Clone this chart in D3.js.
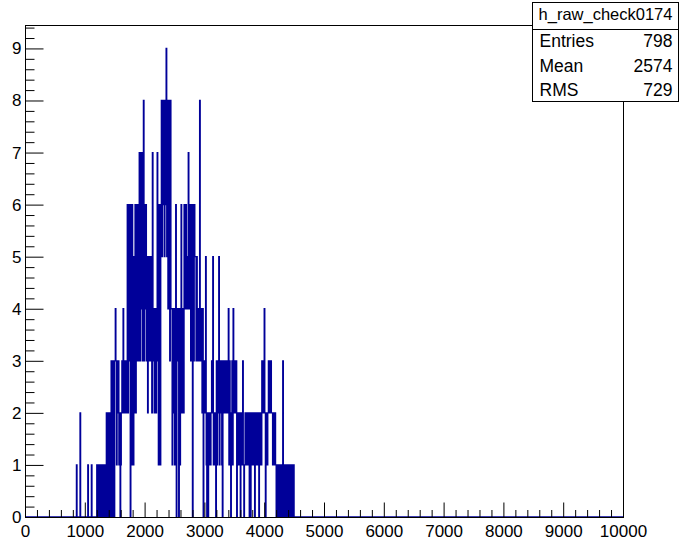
<!DOCTYPE html>
<html>
<head>
<meta charset="utf-8">
<script src="https://cdn.jsdelivr.net/npm/d3@7"></script>
<style>
  html, body { margin: 0; padding: 0; background: #ffffff; }
  svg { display: block; }
</style>
</head>
<body>
<svg id="chart" width="681" height="541"></svg>
<script>
// Histogram definition: 10-unit bins, first listed bin starts at 800
const histName = "h_raw_check0174";
const binLow = 800;
const binWidth = 10;
const counts = [
  0,0,0,0,0,0,1,0,0,0,
  0,0,2,0,0,0,0,0,0,0,
  0,0,0,0,0,1,0,0,0,0,
  0,1,0,0,0,0,0,0,0,0,
  1,0,1,1,0,1,0,1,1,0,
  1,0,1,1,0,1,2,0,1,2,
  0,2,1,0,3,1,0,3,2,0,
  3,4,3,1,3,2,3,1,2,0,
  1,2,3,2,4,3,2,3,2,3,
  2,6,2,6,3,6,0,6,1,6,
  4,1,5,2,6,2,6,3,6,4,
  3,7,3,7,4,7,3,7,8,3,
  6,4,6,3,5,2,5,3,5,4,
  3,5,2,7,3,4,2,4,3,2,
  4,7,3,1,6,6,1,6,8,5,
  8,6,8,5,8,6,9,5,8,4,
  7,8,3,8,4,4,1,4,2,4,
  1,4,6,0,4,3,4,0,4,1,
  4,6,2,4,3,2,6,5,4,6,
  4,5,4,7,5,4,6,3,6,5,
  0,6,3,6,5,5,3,5,4,3,
  4,3,8,4,3,4,2,4,0,3,
  2,3,5,1,0,2,0,2,1,2,
  1,2,3,2,5,1,2,1,2,0,
  3,1,3,2,5,1,3,2,3,1,
  0,3,2,3,2,3,2,3,2,3,
  4,1,3,1,0,2,3,1,4,2,
  3,2,3,3,0,2,1,2,1,2,
  0,1,2,1,3,1,0,1,2,1,
  2,2,1,2,2,0,2,0,2,1,
  2,2,1,2,0,2,1,2,2,1,
  2,0,2,1,2,1,3,2,3,2,
  4,2,0,1,2,1,2,3,2,3,
  2,3,2,2,1,2,1,2,2,1,
  0,1,1,0,1,1,0,1,1,0,
  1,3,0,1,0,1,1,0,1,0,
  1,1,0,1,0,1,1,0,1,1
];

// Statistics box contents
const statLabels = ["Entries", "Mean", "RMS"];
const statValues = ["798", "2574", "729"];

// Axis ranges and tick values
const xRange = [0, 10000];
const yRange = [0, 9.45];
const xMajorTicks = [0, 1000, 2000, 3000, 4000, 5000, 6000, 7000, 8000, 9000, 10000];
const yMajorTicks = [0, 1, 2, 3, 4, 5, 6, 7, 8, 9];
const xMinorStep = 200;
const yMinorStep = 0.2;

const font = "'Liberation Sans', Arial, Helvetica, sans-serif";
const lineColor = "#000099";

const svg = d3.select("#chart");
const frame = { left: 25, top: 25, right: 623, bottom: 517 };

const x = d3.scaleLinear().domain(xRange).range([frame.left, frame.right]);
const y = d3.scaleLinear().domain(yRange).range([frame.bottom, frame.top]);

// Histogram outline as a step line
const pts = [[xRange[0], 0]];
counts.forEach((c, i) => pts.push([binLow + i * binWidth, c]));
pts.push([binLow + counts.length * binWidth, 0]);
pts.push([xRange[1], 0]);

const line = d3.line()
  .x(d => x(d[0]))
  .y(d => y(d[1]))
  .curve(d3.curveStepAfter);

svg.append("path")
  .attr("d", line(pts))
  .attr("fill", "none")
  .attr("stroke", lineColor)
  .attr("stroke-width", 1.3);

// Frame
svg.append("rect")
  .attr("x", frame.left + 0.5)
  .attr("y", frame.top + 0.5)
  .attr("width", frame.right - frame.left)
  .attr("height", frame.bottom - frame.top)
  .attr("fill", "none")
  .attr("stroke", "#000")
  .attr("stroke-width", 1);

// Minor ticks
const xMinor = d3.range(xRange[0], xRange[1] + 1, xMinorStep).filter(v => v % 1000 !== 0);
const yMinor = d3.range(0, yRange[1], yMinorStep).map(v => +v.toFixed(1)).filter(v => Math.abs(v - Math.round(v)) > 1e-6);

function styleAxis(g) {
  g.select(".domain").remove();
  g.selectAll("line").attr("stroke", "#000").attr("stroke-width", 1);
  g.selectAll("text").attr("font-family", font).attr("font-size", 17).attr("fill", "#000");
}

svg.append("g")
  .attr("transform", `translate(0,${frame.bottom + 0.5})`)
  .call(d3.axisBottom(x).tickValues(xMinor).tickSize(-7.5).tickFormat(""))
  .call(styleAxis);

svg.append("g")
  .attr("transform", `translate(0,${frame.bottom + 0.5})`)
  .call(d3.axisBottom(x).tickValues(xMajorTicks).tickSize(-15).tickPadding(7).tickFormat(d3.format("d")))
  .call(styleAxis);

svg.append("g")
  .attr("transform", `translate(${frame.left + 0.5},0)`)
  .call(d3.axisLeft(y).tickValues(yMinor).tickSize(-9).tickFormat(""))
  .call(styleAxis);

svg.append("g")
  .attr("transform", `translate(${frame.left + 0.5},0)`)
  .call(d3.axisLeft(y).tickValues(yMajorTicks).tickSize(-18).tickPadding(4).tickFormat(d3.format("d")))
  .call(styleAxis);

// Statistics box
const box = { x: 532.5, y: 2.5, w: 146, h: 99, titleH: 27 };
const stats = svg.append("g");
stats.append("rect")
  .attr("x", box.x).attr("y", box.y)
  .attr("width", box.w).attr("height", box.h)
  .attr("fill", "#fff").attr("stroke", "#000").attr("stroke-width", 1);
stats.append("line")
  .attr("x1", box.x).attr("x2", box.x + box.w)
  .attr("y1", box.y + box.titleH).attr("y2", box.y + box.titleH)
  .attr("stroke", "#000").attr("stroke-width", 1);
stats.append("text")
  .attr("x", box.x + box.w / 2).attr("y", 20)
  .attr("text-anchor", "middle")
  .attr("font-family", font).attr("font-size", 16.5)
  .text(histName);

const rowY = d3.scalePoint().domain(statLabels).range([47, 96]);
statLabels.forEach((lab, i) => {
  stats.append("text")
    .attr("x", box.x + 7).attr("y", rowY(lab))
    .attr("font-family", font).attr("font-size", 17.5)
    .text(lab);
  stats.append("text")
    .attr("x", box.x + box.w - 6).attr("y", rowY(lab))
    .attr("text-anchor", "end")
    .attr("font-family", font).attr("font-size", 17.5)
    .text(statValues[i]);
});
</script>
</body>
</html>
